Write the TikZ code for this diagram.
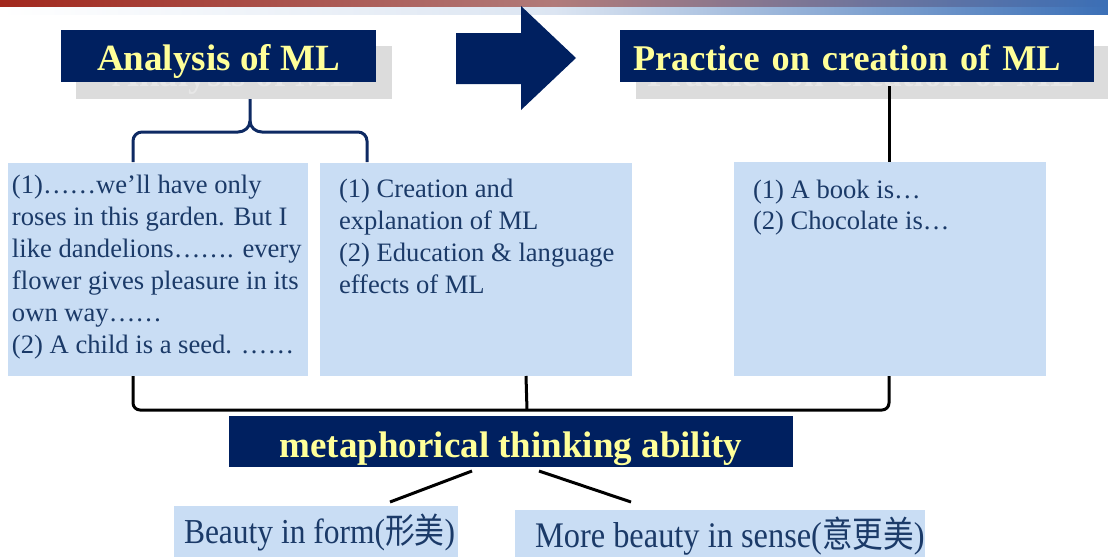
\documentclass[tikz,border=0pt]{standalone}
\usepackage{fontspec}
\setmainfont{Liberation Serif}
\newfontfamily\narrowserif[FakeStretch=0.9]{Liberation Serif}
\newfontfamily\narrowcjk[FakeStretch=0.85]{Noto Sans CJK SC}
\usetikzlibrary{calc}

\definecolor{navy}{HTML}{002060}
\definecolor{titleyellow}{HTML}{FFFF99}
\definecolor{paleblue}{HTML}{C9DDF4}
\definecolor{inkblue}{HTML}{1B3A68}
\definecolor{shadowgray}{HTML}{DCDCDC}
\definecolor{barred}{HTML}{A2281D}
\definecolor{barmid}{HTML}{B17B7A}
\definecolor{barblue}{HTML}{3B6FB6}
\definecolor{bracenavy}{HTML}{0E2A63}

\tikzset{
  titlebox/.style={fill=navy, text=titleyellow, inner sep=0pt, outer sep=0pt,
    anchor=north west, font=\bfseries\fontsize{37}{44}\selectfont,
    text height=28pt, text depth=0pt},
  shadowbox/.style={fill=shadowgray, text=white!30!shadowgray, inner sep=0pt,
    outer sep=0pt, anchor=north west, font=\bfseries\fontsize{37}{44}\selectfont,
    text height=28pt, text depth=0pt},
  palebox/.style={fill=paleblue, inner sep=0pt, outer sep=0pt, anchor=north west},
  bodytext/.style={text=inkblue, inner sep=0pt, outer sep=0pt, anchor=north west,
    align=left, font=\fontsize{26.6}{32}\selectfont},
  bottomtext/.style={text=inkblue, inner sep=0pt, outer sep=0pt, anchor=base west,
    font=\narrowserif\fontsize{35}{40}\selectfont},
  bracket/.style={line width=3pt, line cap=butt, line join=round},
}

\begin{document}
\begin{tikzpicture}[x=1pt, y=-1pt]
\useasboundingbox (0,0) rectangle (1108,557);

% header bands
\shade[left color=barred, right color=barblue, middle color=barmid] (0,0) rectangle (1108,7);
\shade[left color=white, right color=barblue, middle color=barblue!18] (0,7) rectangle (1108,14);

% block arrow between the two headings
\fill[navy] (456,33) -- (521,33) -- (521,6) -- (576,58) -- (521,110)
  -- (521,84) -- (456,84) -- cycle;

% heading shadows
\node[shadowbox, minimum width=316pt, minimum height=53pt] (anaShadow) at (76,46) {Analysis of ML};
\node[shadowbox, minimum height=53pt, text width=450pt, inner xsep=11pt, align=left,
  font=\bfseries\fontsize{36.2}{44}\selectfont]
  (pracShadow) at (636,46) {Practice on creation of ML};

% connector under the right heading
\coordinate (pracFoot) at (889,86);
\coordinate (bookTop) at (889,162);
\draw[bracket] (pracFoot) -- (bookTop);

% headings
\node[titlebox, minimum width=315pt, minimum height=52pt] (analysis) at (61,30) {Analysis of ML};
\node[titlebox, minimum height=52pt, text width=448pt, inner xsep=13pt, align=left,
  font=\bfseries\fontsize{36.2}{44}\selectfont]
  (practice) at (620,30) {Practice on creation of ML};

% brace joining the two left boxes to the left heading
\coordinate (braceTop) at (250,99);
\coordinate (braceL) at (133,162);
\coordinate (braceR) at (367,162);
\draw[bracket, draw=bracenavy]
  (braceL) -- (133,141) to[out=90,in=180] (142,132) -- (238,132)
  to[out=0,in=-90] (250,121) -- (braceTop);
\draw[bracket, draw=bracenavy]
  (braceR) -- (367,141) to[out=90,in=0] (358,132) -- (262,132)
  to[out=180,in=-90] (250,121);

% content boxes
\node[palebox, minimum width=300pt, minimum height=213pt] (roses) at (8,163) {};
\node[palebox, minimum width=312pt, minimum height=213pt] (creation) at (320,163) {};
\node[palebox, minimum width=312pt, minimum height=214pt] (book) at (734,162) {};

\node[bodytext] (rosesText) at (12,175)
  {(1)……we’ll have only\\roses in this garden. But I\\like dandelions……. every\\flower gives pleasure in its\\own way……\\(2) A child is a seed. ……};
\node[bodytext] (creationText) at (339,179)
  {(1) Creation and\\explanation of ML\\(2) Education \& language\\effects of ML};
\node[bodytext, font=\fontsize{26.6}{31}\selectfont] (bookText) at (753,180)
  {(1) A book is…\\(2) Chocolate is…};

% bracket gathering the three boxes
\coordinate (midFoot) at (526,376);
\draw[bracket] (133,376) -- (133,403) to[out=-90,in=180] (140,410)
  -- (882,410) to[out=0,in=-90] (889,403) -- (889,376);
\draw[bracket] (midFoot) -- (527,410);

% central ability
\node[titlebox, minimum width=564pt, minimum height=51pt, text height=31pt]
  (ability) at (229,416) {metaphorical thinking ability};

% two kinds of beauty
\node[palebox, minimum width=284pt, minimum height=51pt] (form) at (174,506) {};
\node[palebox, minimum width=410pt, minimum height=47pt] (sense) at (515,510) {};
\node[bottomtext] (formText) at (184,543) {Beauty in form({\narrowcjk 形美})};
\node[bottomtext, font=\narrowserif\fontsize{36}{40}\selectfont]
  (senseText) at (535,547) {More beauty in sense({\narrowcjk 意更美})};

\coordinate (abilityL) at (472,471);
\coordinate (abilityR) at (539,471);
\coordinate (formTop) at (390,502);
\coordinate (senseTop) at (631,502);
\draw[bracket] (abilityL) -- (formTop);
\draw[bracket] (abilityR) -- (senseTop);
\end{tikzpicture}
\end{document}
